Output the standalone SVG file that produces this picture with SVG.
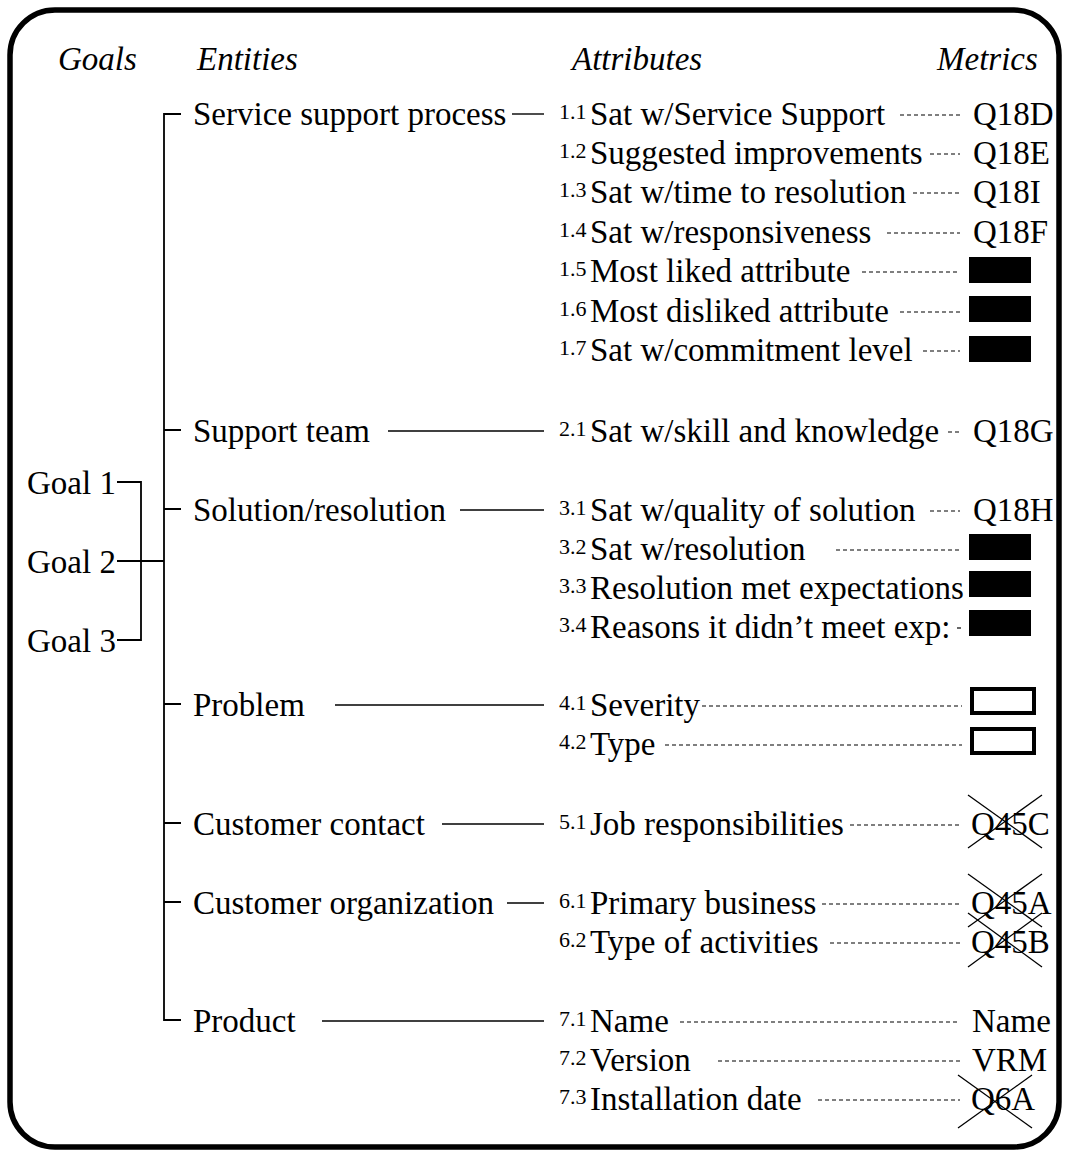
<svg xmlns="http://www.w3.org/2000/svg" width="1067" height="1152" viewBox="0 0 1067 1152">
<style>
text{font-family:"Liberation Serif","Times New Roman",serif;fill:#000}
.h{font-size:33px;font-style:italic}
.t{font-size:33px}
.n{font-size:22px}
.ln{stroke:#000;stroke-width:1.4;fill:none}
.br{stroke:#000;stroke-width:1.8;fill:none}
.ds{stroke:#000;stroke-width:1.2;stroke-dasharray:4 3;fill:none}
.x{stroke:#000;stroke-width:1.3}
.fb{fill:#000}
.ob{fill:#fff;stroke:#000;stroke-width:4}
</style>
<rect x="10" y="10" width="1049" height="1137" rx="45" ry="45" fill="#fff" stroke="#000" stroke-width="5.5"/>
<g id="headers">
<text class="h" x="58" y="70">Goals</text>
<text class="h" x="197" y="70">Entities</text>
<text class="h" x="572" y="70">Attributes</text>
<text class="h" x="937" y="70">Metrics</text>
</g>
<g id="goals">
<g id="goal1"><text class="t" x="27" y="494">Goal 1</text></g>
<g id="goal2"><text class="t" x="27" y="573">Goal 2</text></g>
<g id="goal3"><text class="t" x="27" y="652">Goal 3</text></g>
</g>
<g id="entities">
<g id="e1"><text class="t" x="193" y="125">Service support process</text></g>
<g id="e2"><text class="t" x="193" y="442">Support team</text></g>
<g id="e3"><text class="t" x="193" y="521">Solution/resolution</text></g>
<g id="e4"><text class="t" x="193" y="716">Problem</text></g>
<g id="e5"><text class="t" x="193" y="835">Customer contact</text></g>
<g id="e6"><text class="t" x="193" y="914">Customer organization</text></g>
<g id="e7"><text class="t" x="193" y="1032">Product</text></g>
</g>
<g id="attributes">
<g id="a11"><text class="n" x="559" y="119">1.1</text><text class="t" x="590" y="125">Sat w/Service Support</text></g>
<g id="a12"><text class="n" x="559" y="158">1.2</text><text class="t" x="590" y="164">Suggested improvements</text></g>
<g id="a13"><text class="n" x="559" y="197">1.3</text><text class="t" x="590" y="203">Sat w/time to resolution</text></g>
<g id="a14"><text class="n" x="559" y="237">1.4</text><text class="t" x="590" y="243">Sat w/responsiveness</text></g>
<g id="a15"><text class="n" x="559" y="276">1.5</text><text class="t" x="590" y="282">Most liked attribute</text></g>
<g id="a16"><text class="n" x="559" y="316">1.6</text><text class="t" x="590" y="322">Most disliked attribute</text></g>
<g id="a17"><text class="n" x="559" y="355">1.7</text><text class="t" x="590" y="361">Sat w/commitment level</text></g>
<g id="a21"><text class="n" x="559" y="436">2.1</text><text class="t" x="590" y="442">Sat w/skill and knowledge</text></g>
<g id="a31"><text class="n" x="559" y="515">3.1</text><text class="t" x="590" y="521">Sat w/quality of solution</text></g>
<g id="a32"><text class="n" x="559" y="554">3.2</text><text class="t" x="590" y="560">Sat w/resolution</text></g>
<g id="a33"><text class="n" x="559" y="593">3.3</text><text class="t" x="590" y="599">Resolution met expectations</text></g>
<g id="a34"><text class="n" x="559" y="632">3.4</text><text class="t" x="590" y="638">Reasons it didn’t meet exp:</text></g>
<g id="a41"><text class="n" x="559" y="710">4.1</text><text class="t" x="590" y="716">Severity</text></g>
<g id="a42"><text class="n" x="559" y="749">4.2</text><text class="t" x="590" y="755">Type</text></g>
<g id="a51"><text class="n" x="559" y="829">5.1</text><text class="t" x="590" y="835">Job responsibilities</text></g>
<g id="a61"><text class="n" x="559" y="908">6.1</text><text class="t" x="590" y="914">Primary business</text></g>
<g id="a62"><text class="n" x="559" y="947">6.2</text><text class="t" x="590" y="953">Type of activities</text></g>
<g id="a71"><text class="n" x="559" y="1026">7.1</text><text class="t" x="590" y="1032">Name</text></g>
<g id="a72"><text class="n" x="559" y="1065">7.2</text><text class="t" x="590" y="1071">Version</text></g>
<g id="a73"><text class="n" x="559" y="1104">7.3</text><text class="t" x="590" y="1110">Installation date</text></g>
</g>
<g id="metrics">
<g id="m11"><text class="t" x="973" y="125">Q18D</text></g>
<g id="m12"><text class="t" x="973" y="164">Q18E</text></g>
<g id="m13"><text class="t" x="973" y="203">Q18I</text></g>
<g id="m14"><text class="t" x="973" y="243">Q18F</text></g>
<g id="m15"><rect class="fb" x="969" y="257" width="62" height="26"/></g>
<g id="m16"><rect class="fb" x="969" y="296" width="62" height="26"/></g>
<g id="m17"><rect class="fb" x="969" y="336" width="62" height="26"/></g>
<g id="m21"><text class="t" x="973" y="442">Q18G</text></g>
<g id="m31"><text class="t" x="973" y="521">Q18H</text></g>
<g id="m32"><rect class="fb" x="969" y="534" width="62" height="26"/></g>
<g id="m33"><rect class="fb" x="969" y="571" width="62" height="26"/></g>
<g id="m34"><rect class="fb" x="969" y="610" width="62" height="26"/></g>
<g id="m41"><rect class="ob" x="972" y="689" width="62" height="24"/></g>
<g id="m42"><rect class="ob" x="972" y="729" width="62" height="24"/></g>
<g id="m51"><text class="t" x="971" y="835">Q45C</text><line class="x" x1="968" y1="795" x2="1042" y2="848"/><line class="x" x1="1042" y1="795" x2="968" y2="848"/></g>
<g id="m61"><text class="t" x="971" y="914">Q45A</text><line class="x" x1="968" y1="874" x2="1042" y2="927"/><line class="x" x1="1042" y1="874" x2="968" y2="927"/></g>
<g id="m62"><text class="t" x="971" y="953">Q45B</text><line class="x" x1="968" y1="913" x2="1042" y2="967"/><line class="x" x1="1042" y1="913" x2="968" y2="967"/></g>
<g id="m71"><text class="t" x="972" y="1032">Name</text></g>
<g id="m72"><text class="t" x="972" y="1071">VRM</text></g>
<g id="m73"><text class="t" x="971" y="1110">Q6A</text><line class="x" x1="958" y1="1075" x2="1032" y2="1128"/><line class="x" x1="1032" y1="1075" x2="958" y2="1128"/></g>
</g>
<g id="connectors">
<path class="br" d="M117 482H141V640H117M117 561H164"/>
<path class="br" d="M181 114H164V1020H181M164 430H181M164 509H181M164 704H181M164 823H181M164 902H181"/>
<line class="ln" x1="512" y1="114" x2="544" y2="114"/>
<line class="ln" x1="388" y1="431" x2="544" y2="431"/>
<line class="ln" x1="460" y1="510" x2="544" y2="510"/>
<line class="ln" x1="335" y1="705" x2="544" y2="705"/>
<line class="ln" x1="442" y1="824" x2="544" y2="824"/>
<line class="ln" x1="507" y1="903" x2="544" y2="903"/>
<line class="ln" x1="322" y1="1021" x2="544" y2="1021"/>
<line class="ds" x1="900" y1="115" x2="960" y2="115"/>
<line class="ds" x1="930" y1="154" x2="960" y2="154"/>
<line class="ds" x1="913" y1="193" x2="960" y2="193"/>
<line class="ds" x1="887" y1="233" x2="960" y2="233"/>
<line class="ds" x1="862" y1="272" x2="960" y2="272"/>
<line class="ds" x1="900" y1="312" x2="960" y2="312"/>
<line class="ds" x1="923" y1="351" x2="960" y2="351"/>
<line class="ds" x1="948" y1="432" x2="962" y2="432"/>
<line class="ds" x1="930" y1="511" x2="960" y2="511"/>
<line class="ds" x1="836" y1="550" x2="960" y2="550"/>
<line class="ds" x1="957" y1="628" x2="964" y2="628"/>
<line class="ds" x1="702" y1="706" x2="962" y2="706"/>
<line class="ds" x1="665" y1="745" x2="962" y2="745"/>
<line class="ds" x1="850" y1="825" x2="960" y2="825"/>
<line class="ds" x1="822" y1="904" x2="960" y2="904"/>
<line class="ds" x1="830" y1="943" x2="960" y2="943"/>
<line class="ds" x1="680" y1="1022" x2="960" y2="1022"/>
<line class="ds" x1="718" y1="1061" x2="960" y2="1061"/>
<line class="ds" x1="818" y1="1100" x2="960" y2="1100"/>
</g>
</svg>
